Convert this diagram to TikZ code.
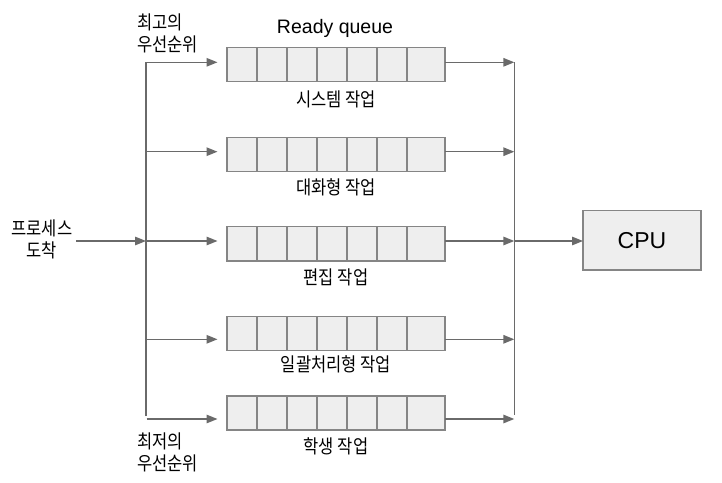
\documentclass[tikz,border=0pt]{standalone}
\usepackage{fontspec}
\setmainfont{Liberation Sans}
\newfontfamily\kr[FakeStretch=0.87]{Noto Sans CJK KR}
\usetikzlibrary{arrows.meta}
\definecolor{lc}{HTML}{6A6A6A}
\definecolor{bc}{HTML}{858585}
\definecolor{bf}{HTML}{EEEEEE}
\begin{document}
\begin{tikzpicture}[x=1bp,y=-1bp,
  line/.style={draw=lc,line width=1.4bp},
  arr/.style={line,-{Triangle[length=11bp,width=8.5bp]}},
  qbox/.style={draw=bc,fill=bf,line width=1.4bp,minimum width=218bp,minimum height=34bp,inner sep=0,outer sep=0},
  cpubox/.style={draw=bc,fill=bf,line width=1.4bp,minimum width=118bp,minimum height=59bp,inner sep=0,outer sep=0,font=\fontsize{23bp}{26bp}\selectfont},
  kt/.style={font=\kr\fontsize{19bp}{22bp}\selectfont,inner sep=0},
  lt/.style={font=\fontsize{19.5bp}{22bp}\selectfont,inner sep=0},
]
\useasboundingbox[fill=white] (0,0) rectangle (722,483);
% queues
\node[qbox] (q1) at (336,64.3) {};
\node[qbox] (q2) at (336,154.5) {};
\node[qbox] (q3) at (336,243.8) {};
\node[qbox] (q4) at (336,333.7) {};
\node[qbox] (q5) at (336,412.8) {};
\foreach \q in {q1,q2,q3,q4,q5}{
  \foreach \i in {1,...,6}{
    \draw[draw=bc,line width=1.4bp] ([xshift=\i*30bp]\q.north west) -- ([xshift=\i*30bp]\q.south west);
  }
}
% labels
\node[lt] (rq) at (335,28.5) {Ready queue};
\node[kt] (l1) at (336,99) {시스템 작업};
\node[kt] (l2) at (336,187) {대화형 작업};
\node[kt] (l3) at (336,277) {편집 작업};
\node[kt] (l4) at (336,364) {일괄처리형 작업};
\node[kt] (l5) at (336,446.5) {학생 작업};
\node[kt,align=left,anchor=west] (hi) at (137,33) {최고의\\우선순위};
\node[kt,align=left,anchor=west] (lo) at (137,452) {최저의\\우선순위};
\node[kt,align=center] (arrv) at (42,239) {프로세스\\도착};
\node[cpubox] (cpu) at (642,240.3) {CPU};
% left distribution line
\coordinate (L1) at (146,62.3);
\coordinate (L2) at (146,151.7);
\coordinate (L3) at (146,241);
\coordinate (L4) at (146,339.3);
\coordinate (Lb) at (146,416);
\coordinate (L5) at (146.5,419);
\coordinate (in) at (76,241);
\draw[line] (Lb) -- (L1);
\foreach \k in {1,...,5}{
  \draw[arr,shorten >=9.5bp] (L\k) -- (L\k -| q\k.west);
}
\draw[arr] (in) -- (L3);
% right collection line
\coordinate (R1) at (514.3,62.3);
\coordinate (R2) at (514.3,151.7);
\coordinate (R3) at (514.3,241);
\coordinate (R4) at (514.3,339.3);
\coordinate (R5) at (514.3,419);
\coordinate (Rb) at (514.3,415);
\draw[line] (R1) -- (Rb);
\foreach \k in {1,...,5}{
  \draw[arr] (R\k -| q\k.east) -- (R\k);
}
\draw[arr] (R3) -- (R3 -| cpu.west);
\end{tikzpicture}
\end{document}
